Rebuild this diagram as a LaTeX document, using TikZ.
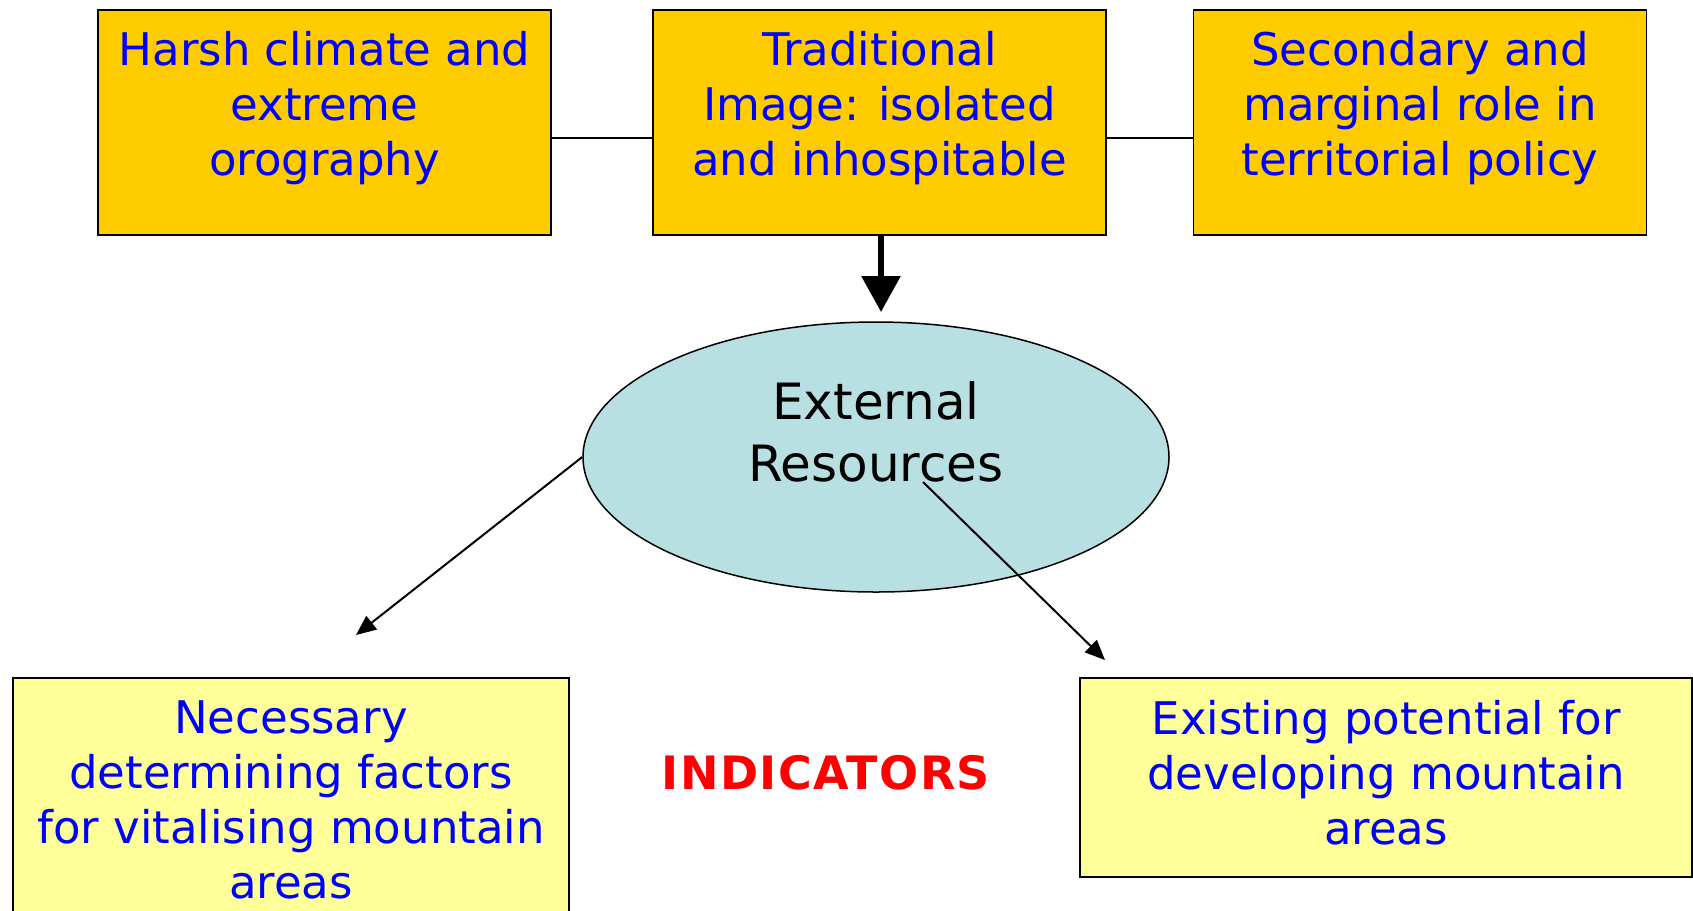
\documentclass[tikz,border=0pt]{standalone}
\usepackage{fontspec}
\setmainfont{DejaVu Sans}
\usetikzlibrary{arrows.meta,shapes.geometric,calc}
\definecolor{gold}{HTML}{FFCC00}
\definecolor{paleyellow}{HTML}{FFFF99}
\definecolor{paleblue}{HTML}{B8DFE1}
\definecolor{txtblue}{HTML}{0000FF}
\definecolor{indred}{HTML}{FF0000}
\tikzset{
  topbox/.style={draw=black, line width=1.5pt, fill=gold, minimum width=453pt, minimum height=225pt, inner sep=0pt},
  botbox/.style={draw=black, line width=1.5pt, fill=paleyellow, inner sep=0pt},
  btext/.style={text=txtblue, align=center, font=\fontsize{45}{55}\selectfont, inner sep=0pt},
  thin/.style={line width=2pt, -{Triangle[length=20pt,width=17pt]}},
}
\begin{document}
\begin{tikzpicture}[x=1pt,y=-1pt]
\useasboundingbox (0,0) rectangle (1693,910);
\clip (0,0) rectangle (1693,910);
\fill[white] (0,0) rectangle (1693,910);
% top boxes
\node[topbox] (tl) at (324.5,122.5) {};
\node[topbox] (tm) at (879.5,122.5) {};
\node[topbox] (tr) at (1420,122.5) {};
\node[btext] (tlt) at (324.5,108) {Harsh climate and\\extreme\\orography};
\node[btext] (tmt) at (879.5,108) {Traditional\\Image: isolated\\and inhospitable};
\node[btext] (trt) at (1420,108) {Secondary and\\marginal role in\\territorial policy};
\draw[line width=2pt] ([yshift=-15pt]tl.east) -- ([yshift=-15pt]tm.west);
\draw[line width=2pt] ([yshift=-15pt]tm.east) -- ([yshift=-15pt]tr.west);
% ellipse
\node[ellipse, draw=black, line width=1.5pt, fill=paleblue, minimum width=586pt, minimum height=270pt, inner sep=0pt] (ell) at (876,457) {};
\node[align=center, inner sep=0pt, font=\fontsize{50}{62}\selectfont] (ellt) at (876,432) {External\\Resources};
\coordinate (ahead) at (881,312);
\draw[line width=6pt, -{Triangle[length=36pt,width=38pt]}] ([xshift=1.5pt]tm.south) -- (ahead);
% bottom boxes
\node[botbox, minimum width=556pt, minimum height=260pt] (bl) at (291,808) {};
\node[botbox, minimum width=612pt, minimum height=199pt] (br) at (1386,777.5) {};
\node[btext] (blt) at (291,800) {Necessary\\determining factors\\for vitalising mountain\\areas};
\node[btext] (brt) at (1386,773) {Existing potential for\\developing mountain\\areas};
\node[text=indred, inner sep=0pt, font=\fontsize{46}{50}\selectfont\bfseries\addfontfeature{LetterSpace=3}] (ind) at (826,773) {INDICATORS};
% thin arrows
\coordinate (la) at (356,635);
\coordinate (rs) at (923,482);
\coordinate (ra) at (1105,660);
\draw[thin] (ell.west) -- (la);
\draw[thin] (rs) -- (ra);
\end{tikzpicture}
\end{document}
